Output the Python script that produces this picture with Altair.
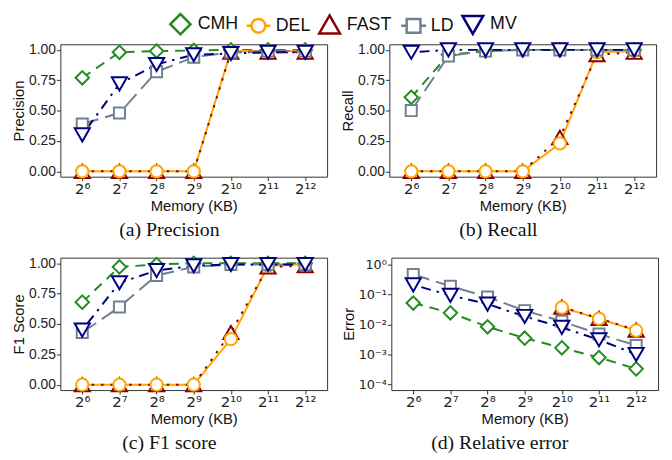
import altair as alt
import pandas as pd

# ---------------- data ----------------
mem_labels = ["2⁶", "2⁷", "2⁸", "2⁹", "2¹⁰", "2¹¹", "2¹²"]
series = ["CMH", "DEL", "FAST", "LD", "MV"]
colors = ["#228B22", "#FFA500", "#8B0000", "#708090", "#000080"]

precision_cmh = [0.77, 0.98, 0.99, 0.995, 1.00, 1.00, 1.00]
precision_del = [0.00, 0.00, 0.00, 0.00, 0.99, 0.99, 0.99]
precision_fast = [0.00, 0.00, 0.00, 0.00, 0.98, 0.98, 0.98]
precision_ld = [0.39, 0.48, 0.82, 0.94, 0.98, 0.99, 0.99]
precision_mv = [0.30, 0.72, 0.88, 0.96, 0.97, 0.98, 0.98]

recall_cmh = [0.61, 0.96, 0.99, 1.00, 1.00, 1.00, 1.00]
recall_del = [0.00, 0.00, 0.00, 0.00, 0.23, 0.98, 0.99]
recall_fast = [0.00, 0.00, 0.00, 0.00, 0.28, 0.96, 0.98]
recall_ld = [0.50, 0.95, 0.99, 1.00, 1.00, 1.00, 1.00]
recall_mv = [0.98, 1.00, 1.00, 1.00, 1.00, 1.00, 1.00]

f1_cmh = [0.68, 0.97, 0.99, 1.00, 1.00, 1.00, 1.00]
f1_del = [0.00, 0.00, 0.00, 0.00, 0.375, 0.98, 0.99]
f1_fast = [0.00, 0.00, 0.00, 0.00, 0.43, 0.97, 0.98]
f1_ld = [0.43, 0.64, 0.90, 0.97, 0.99, 0.99, 0.99]
f1_mv = [0.45, 0.84, 0.94, 0.98, 0.99, 0.99, 0.99]

error_cmh = [0.052, 0.0245, 0.0084, 0.0035, 0.00166, 0.00079, 0.00033]
error_del = [None, None, None, None, 0.037, 0.0156, 0.0063]
error_fast = [None, None, None, None, 0.038, 0.016, 0.0065]
error_ld = [0.47, 0.19, 0.083, 0.029, 0.0128, 0.0048, 0.0020]
error_mv = [0.21, 0.094, 0.048, 0.0186, 0.0080, 0.0031, 0.0010]

linear_ticks = [0, 0.25, 0.5, 0.75, 1.0]
log_ticks = [1, 0.1, 0.01, 0.001, 0.0001]
log_tick_labels = ["10⁰", "10⁻¹", "10⁻²", "10⁻³", "10⁻⁴"]

panels = {
    "precision": [precision_cmh, precision_del, precision_fast, precision_ld, precision_mv],
    "recall": [recall_cmh, recall_del, recall_fast, recall_ld, recall_mv],
    "f1": [f1_cmh, f1_del, f1_fast, f1_ld, f1_mv],
    "error": [error_cmh, error_del, error_fast, error_ld, error_mv],
}

rows = []
for pname, lists in panels.items():
    for s, vals in zip(series, lists):
        for m, v in zip(mem_labels, vals):
            if v is not None:
                rows.append({"panel": pname, "series": s, "mem": m, "value": v})
df = pd.DataFrame(rows)

# ---------------- styling ----------------
point_shapes = ["diamond", "circle", "triangle-up", "square", "triangle-down"]
point_sizes = [185, 155, 235, 125, 235]
dashes = [[10, 7], [1, 0], [2.5, 7], [17, 7], [2.5, 6, 10, 6]]
legend_paths = [
    "M-0.85,0L0,-0.85L0.85,0L0,0.85Z",
    "M-1,0H-0.58M0.58,0H1M-0.58,0A0.58,0.58,0,1,1,0.58,0A0.58,0.58,0,1,1,-0.58,0Z",
    "M0,-0.8L0.875,0.72L-0.875,0.72Z",
    "M-1.05,0H-0.58M0.58,0H1.05M-0.58,-0.58H0.58V0.58H-0.58Z",
    "M0,0.8L0.875,-0.72L-0.875,-0.72Z",
]

FONT = "Liberation Sans"
SUP_FONT = "DejaVu Sans"


def panel(key, ytitle, caption, log=False, with_legend=False):
    d = df[df.panel == key]
    if log:
        yscale = alt.Scale(type="log", domain=[6.46e-5, 1.70], nice=False)
        yaxis = alt.Axis(
            title=ytitle,
            values=log_ticks,
            labelExpr="%s[round(-log(datum.value)/LN10)]" % str(log_tick_labels),
            labelFont=SUP_FONT,
            labelFontSize=13,
        )
    else:
        yscale = alt.Scale(domain=[-0.044, 1.046], nice=False, zero=False)
        yaxis = alt.Axis(title=ytitle, values=linear_ticks, format=".2f")
    xenc = alt.X(
        "mem:N",
        sort=mem_labels,
        scale=alt.Scale(domain=mem_labels, padding=0.59),
        axis=alt.Axis(
            title="Memory (KB)",
            labelAngle=0,
            labelFont=SUP_FONT,
            labelFontSize=15,
        ),
    )
    yenc = alt.Y("value:Q", scale=yscale, axis=yaxis)
    layers = []
    for s, c, dash in zip(series, colors, dashes):
        layers.append(
            alt.Chart(d)
            .transform_filter(alt.datum.series == s)
            .mark_line(color=c, strokeWidth=2, strokeDash=dash)
            .encode(x=xenc, y=yenc)
        )
    for i in [2, 1, 0, 3, 4]:
        layers.append(
            alt.Chart(d)
            .transform_filter(alt.datum.series == series[i])
            .mark_point(
                shape=point_shapes[i],
                size=point_sizes[i],
                stroke=colors[i],
                fill="white",
                filled=True,
                fillOpacity=1,
                opacity=1,
                strokeWidth=2,
            )
            .encode(x=xenc, y=yenc)
        )
    if with_legend:
        layers.append(
            alt.Chart(d)
            .transform_filter("false")
            .mark_point(filled=False, strokeWidth=2.5, opacity=1)
            .encode(
                color=alt.Color(
                    "series:N",
                    scale=alt.Scale(domain=series, range=colors),
                    legend=alt.Legend(
                        title=None,
                        orient="none",
                        direction="horizontal",
                        columns=5,
                        legendX=108,
                        legendY=-34,
                        symbolSize=576,
                        symbolStrokeWidth=2.5,
                        labelFontSize=18,
                        labelFont=FONT,
                        labelColor="#111",
                        labelOffset=4,
                        columnPadding=3,
                    ),
                ),
                shape=alt.Shape(
                    "series:N",
                    scale=alt.Scale(domain=series, range=legend_paths),
                    legend=alt.Legend(title=None),
                ),
            )
        )
    return alt.layer(*layers).properties(
        width=270,
        height=134,
        title=alt.TitleParams(
            caption,
            orient="bottom",
            frame="bounds",
            anchor="middle",
            font="Liberation Serif",
            fontSize=20,
            fontWeight="normal",
            color="#111",
            offset=7,
        ),
    )


pa = panel("precision", "Precision", "(a) Precision", with_legend=True)
pb = panel("recall", "Recall", "(b) Recall")
pc = panel("f1", "F1 Score", "(c) F1 score")
pd_ = panel("error", "Error", "(d) Relative error", log=True)

chart = (
    alt.vconcat(
        alt.hconcat(pa, pb, spacing=12),
        alt.hconcat(pc, pd_, spacing=12),
        spacing=11,
    )
    .properties(padding={"left": 3, "top": 0, "right": 5, "bottom": 0})
    .configure_view(stroke="#333333", strokeWidth=1)
    .configure_axis(
        grid=False,
        domain=False,
        ticks=True,
        tickColor="#333333",
        tickSize=4,
        labelFont=FONT,
        labelFontSize=14,
        labelColor="#222",
        labelPadding=1,
        titleFont=FONT,
        titleFontSize=15,
        titleFontWeight="normal",
        titleColor="#111",
        titlePadding=2,
    )
)

chart.save("out.html", embed_options={"renderer": "svg", "actions": False})
